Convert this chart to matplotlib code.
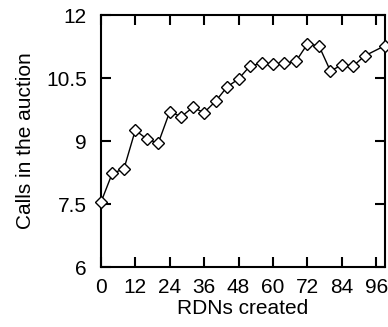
import numpy as np
import matplotlib as mpl
mpl.use('Agg')
import matplotlib.pyplot as plt

# RDNs created vs calls in the auction
rdns = [0, 4, 8, 12, 16, 20, 24, 28, 32, 36, 40, 44, 48,
        52, 56, 60, 64, 68, 72, 76, 80, 84, 88, 92, 99]
calls = [7.54, 8.24, 8.33, 9.26, 9.05, 8.95, 9.70, 9.58, 9.80, 9.68, 9.95, 10.29, 10.48,
         10.79, 10.85, 10.83, 10.85, 10.90, 11.31, 11.27, 10.67, 10.81, 10.79, 11.03, 11.27]
xticks = [0, 12, 24, 36, 48, 60, 72, 84, 96]
yticks = [6, 7.5, 9, 10.5, 12]
yticklabels = ['6', '7.5', '9', '10.5', '12']

plt.rcParams['font.family'] = ['Liberation Sans', 'DejaVu Sans']
plt.rcParams['font.size'] = 15

fig = plt.figure(figsize=(3.88, 3.27), dpi=100)
ax = fig.add_axes([0.260, 0.183, 0.732, 0.771])

ax.plot(rdns, calls, color='black', linewidth=1.0, marker='D', markersize=6,
        markerfacecolor='white', markeredgecolor='black', markeredgewidth=1.0,
        clip_on=False, zorder=3)

ax.set_xlim(0, 99)
ax.set_ylim(6, 12)
ax.set_xticks(xticks)
ax.set_yticks(yticks)
ax.set_yticklabels(yticklabels)
ax.tick_params(direction='in', length=7, width=1.5, top=True, right=True,
               labelsize=15)
ax.tick_params(axis='x', pad=8)
ax.tick_params(axis='y', pad=10)
for s in ax.spines.values():
    s.set_linewidth(1.5)

ax.set_xlabel('RDNs created', fontsize=15, labelpad=1)
ax.set_ylabel('Calls in the auction', fontsize=15, labelpad=8)

fig.savefig('out.png', dpi=100)
